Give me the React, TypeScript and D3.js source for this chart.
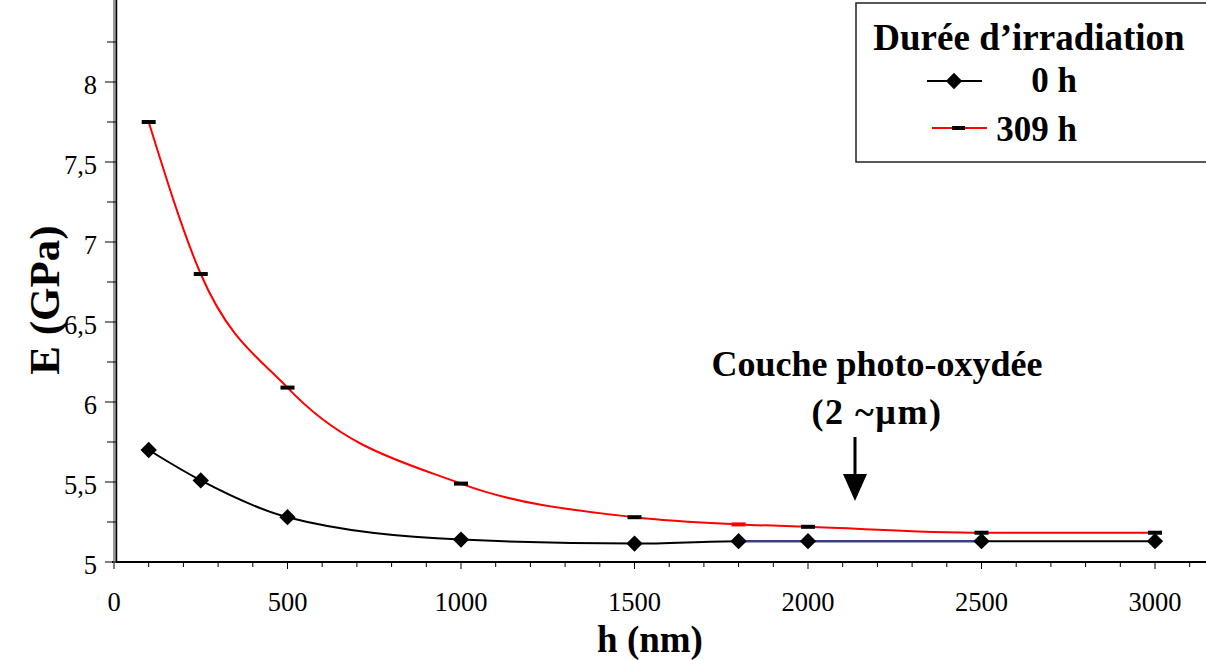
import React, { useEffect, useRef } from 'react';
import * as d3 from 'd3';

// épaisseur h (nm) et module E (GPa)
const hValues = [100, 250, 500, 1000, 1500, 1800, 2000, 2500, 3000];
const e0h = [5.70, 5.51, 5.28, 5.14, 5.115, 5.13, 5.13, 5.13, 5.13];
const e309h = [7.75, 6.80, 6.09, 5.49, 5.28, 5.235, 5.22, 5.183, 5.183];
const xMajorTicks = [0, 500, 1000, 1500, 2000, 2500, 3000];
const yMajorTicks = [5, 5.5, 6, 6.5, 7, 7.5, 8];
const seriesLabels = ['0 h', '309 h'];

const FONT = 'Liberation Serif, DejaVu Serif, Times New Roman, serif';

const App = () => {
  const svgRef = useRef<SVGSVGElement>(null);

  useEffect(() => {
    const width = 1206;
    const height = 660;
    const svg = d3.select(svgRef.current)
      .attr('width', width)
      .attr('height', height)
      .style('font-family', FONT);
    svg.selectAll('*').remove();

    const x = d3.scaleLinear().domain([0, 3000]).range([114, 1155]);
    const y = d3.scaleLinear().domain([5, 8.5]).range([562, 2]);
    const fmt = (v: number) => String(v).replace('.', ',');

    // axe x
    svg.append('line')
      .attr('x1', 112).attr('x2', width)
      .attr('y1', y(5)).attr('y2', y(5))
      .attr('stroke', '#000').attr('stroke-width', 2);
    const xMinor = d3.range(0, 3200, 100).filter(v => v % 500 !== 0);
    svg.selectAll('.xminor').data(xMinor).enter().append('line')
      .attr('x1', d => x(d)).attr('x2', d => x(d))
      .attr('y1', y(5)).attr('y2', y(5) + 5)
      .attr('stroke', '#000').attr('stroke-width', 1);
    svg.selectAll('.xmajor').data(xMajorTicks).enter().append('line')
      .attr('x1', d => x(d)).attr('x2', d => x(d))
      .attr('y1', y(5)).attr('y2', y(5) + 7)
      .attr('stroke', '#000').attr('stroke-width', 1);
    svg.selectAll('.xlab').data(xMajorTicks).enter().append('text')
      .attr('x', d => x(d)).attr('y', 611)
      .attr('text-anchor', 'middle')
      .attr('font-size', 26.5)
      .text(d => String(d));

    // axe y
    svg.append('line')
      .attr('x1', 115).attr('x2', 115)
      .attr('y1', 0).attr('y2', y(5) + 1)
      .attr('stroke', '#999').attr('stroke-width', 4);
    svg.append('line')
      .attr('x1', 116.5).attr('x2', 116.5)
      .attr('y1', 0).attr('y2', y(5) + 1)
      .attr('stroke', '#000').attr('stroke-width', 1.5);
    const yMinor = d3.range(5.25, 8.5, 0.5);
    svg.selectAll('.yminor').data(yMinor).enter().append('line')
      .attr('x1', 107).attr('x2', 116)
      .attr('y1', d => y(d)).attr('y2', d => y(d))
      .attr('stroke', '#000').attr('stroke-width', 1);
    svg.selectAll('.ymajor').data(yMajorTicks).enter().append('line')
      .attr('x1', 105).attr('x2', 116)
      .attr('y1', d => y(d)).attr('y2', d => y(d))
      .attr('stroke', '#000').attr('stroke-width', 1);
    svg.selectAll('.ylab').data(yMajorTicks).enter().append('text')
      .attr('x', 97).attr('y', d => y(d) + 12)
      .attr('text-anchor', 'end')
      .attr('font-size', 26.5)
      .text(d => fmt(d));

    // titres des axes
    svg.append('text')
      .attr('transform', 'translate(59,300) rotate(-90)')
      .attr('text-anchor', 'middle')
      .attr('font-size', 43).attr('font-weight', 'bold')
      .text('E (GPa)');
    svg.append('text')
      .attr('x', 650).attr('y', 652)
      .attr('text-anchor', 'middle')
      .attr('font-size', 37).attr('font-weight', 'bold')
      .text('h (nm)');

    // courbes
    const pts0 = hValues.map((h, i) => [h, e0h[i]] as [number, number]);
    const pts309 = hValues.map((h, i) => [h, e309h[i]] as [number, number]);
    const line = d3.line<[number, number]>()
      .x(d => x(d[0])).y(d => y(d[1]))
      .curve(d3.curveMonotoneX);

    svg.append('path').attr('d', line(pts309))
      .attr('fill', 'none').attr('stroke', '#ff0000').attr('stroke-width', 2);
    svg.append('path').attr('d', line(pts0))
      .attr('fill', 'none').attr('stroke', '#000').attr('stroke-width', 2);
    // segment bleu 1800–2500
    const bluePts = pts0.filter(d => d[0] >= 1800 && d[0] <= 2500);
    svg.append('path').attr('d', line(bluePts))
      .attr('fill', 'none').attr('stroke', '#3c3ca0').attr('stroke-width', 2);

    // marqueurs
    const diamond = d3.symbol().type(d3.symbolDiamond2).size(170);
    svg.selectAll('.m0').data(pts0).enter().append('path')
      .attr('d', diamond)
      .attr('transform', d => `translate(${x(d[0])},${y(d[1])})`)
      .attr('fill', '#000');
    svg.selectAll('.m309').data(pts309).enter().append('rect')
      .attr('x', d => x(d[0]) - 7).attr('y', d => y(d[1]) - 2)
      .attr('width', 14).attr('height', 4)
      .attr('fill', d => (d[0] === 1800 ? '#ff0000' : '#000'));

    // annotation
    const annot = svg.append('g')
      .attr('font-weight', 'bold').attr('font-size', 36).attr('text-anchor', 'middle');
    annot.append('text').attr('x', 877).attr('y', 376).text('Couche photo-oxydée');
    annot.append('text').attr('x', 877).attr('y', 424)
      .attr('letter-spacing', 1.5)
      .text('(2 ~µm)');
    svg.append('line')
      .attr('x1', 855).attr('x2', 855).attr('y1', 437).attr('y2', 478)
      .attr('stroke', '#000').attr('stroke-width', 3);
    svg.append('path')
      .attr('d', 'M843,474 L867,474 L855,501 Z')
      .attr('fill', '#000');

    // légende
    const leg = svg.append('g');
    leg.append('rect')
      .attr('x', 856).attr('y', 3).attr('width', 400).attr('height', 159)
      .attr('fill', '#fff').attr('stroke', '#222').attr('stroke-width', 1.5);
    leg.append('text')
      .attr('x', 1029).attr('y', 50).attr('text-anchor', 'middle')
      .attr('font-size', 37).attr('font-weight', 'bold')
      .text('Durée d’irradiation');
    leg.append('line').attr('x1', 927).attr('x2', 982).attr('y1', 81).attr('y2', 81)
      .attr('stroke', '#000').attr('stroke-width', 2);
    leg.append('path').attr('d', diamond)
      .attr('transform', 'translate(954,81)').attr('fill', '#000');
    leg.append('line').attr('x1', 932).attr('x2', 987).attr('y1', 128).attr('y2', 128)
      .attr('stroke', '#ff0000').attr('stroke-width', 2);
    leg.append('rect').attr('x', 952).attr('y', 126).attr('width', 13).attr('height', 4)
      .attr('fill', '#000');
    leg.append('text')
      .attr('x', 1077).attr('y', 92).attr('text-anchor', 'end')
      .attr('font-size', 35).attr('font-weight', 'bold')
      .text(seriesLabels[0]);
    leg.append('text')
      .attr('x', 1077).attr('y', 141).attr('text-anchor', 'end')
      .attr('font-size', 35).attr('font-weight', 'bold')
      .text(seriesLabels[1]);
  }, []);

  return (
    <div style={{ position: 'absolute', left: 0, top: 0 }}>
      <svg ref={svgRef} style={{ display: 'block' }}></svg>
    </div>
  );
};

export default App;
